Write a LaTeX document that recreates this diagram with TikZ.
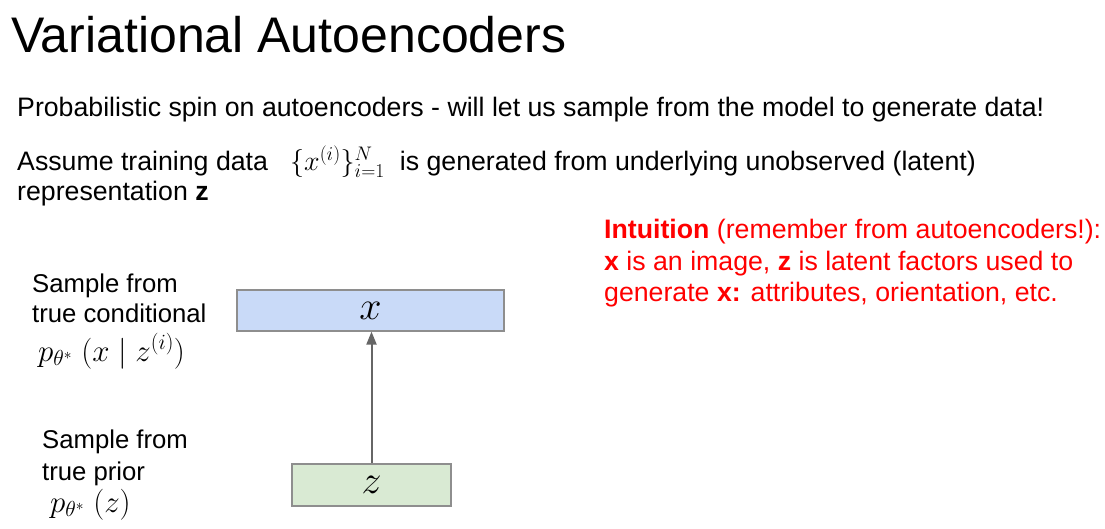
\RequirePackage{fix-cm}
\documentclass[tikz,border=0pt]{standalone}
\usepackage[no-math]{fontspec}
\setmainfont{Liberation Sans}
\usetikzlibrary{arrows.meta}
\definecolor{boxblue}{HTML}{C9DAF8}
\definecolor{boxgreen}{HTML}{D9EAD3}
\definecolor{boxline}{HTML}{8E8E8E}
\definecolor{arrowgray}{HTML}{666666}
\definecolor{intred}{HTML}{FF0000}
\begin{document}
\begin{tikzpicture}[x=1pt,y=-1pt,
  txt/.style={anchor=base west, inner sep=0pt, font=\fontsize{26.7}{31}\selectfont},
  lbl/.style={anchor=base west, inner sep=0pt, font=\fontsize{25.7}{31}\selectfont},
  redtxt/.style={txt, text=intred},
  titletxt/.style={anchor=base west, inner sep=0pt, font=\fontsize{50}{60}\selectfont},
  mathlbl/.style={anchor=base west, inner sep=0pt, font=\fontsize{31}{36}\selectfont},
  varbox/.style={draw=boxline, line width=1.2pt, inner sep=0pt, font=\fontsize{40}{42}\selectfont},
  conn/.style={draw=arrowgray, line width=2pt, -{Triangle[width=10pt,length=13pt]}}
]
\useasboundingbox (0,0) rectangle (1105,529);

\node[titletxt] (title) at (11,53) {Variational Autoencoders};

\node[txt] (l1) at (17,117) {Probabilistic spin on autoencoders - will let us sample from the model to generate data!};
\node[txt] (l2a) at (17,171) {Assume training data};
\node[anchor=base west, inner sep=0pt, font=\fontsize{28}{32}\selectfont] (l2m) at (290,171) {$\{x^{(i)}\}_{i=1}^{N}$};
\node[txt, anchor=base east] (l2b) at (976,171) {is generated from underlying unobserved (latent)};
\node[txt] (l3) at (17,201) {representation \textbf{z}};

\node[redtxt] (r1) at (604,239) {\textbf{Intuition} (remember from autoencoders!):};
\node[redtxt] (r2) at (604,270) {\textbf{x} is an image, \textbf{z} is latent factors used to};
\node[redtxt] (r3) at (604,301) {generate \textbf{x:} attributes, orientation, etc.};

\node[varbox, fill=boxblue, minimum width=267pt, minimum height=41pt] (xbox) at (370.5,310.5) {$x$};
\node[varbox, fill=boxgreen, minimum width=159pt, minimum height=42pt] (zbox) at (371.5,485) {$z$};
\draw[conn] (zbox.north) -- (zbox.north |- xbox.south);

\node[lbl] (s1) at (32,292) {Sample from};
\node[lbl] (s2) at (32,322) {true conditional};
\node[mathlbl] (s3) at (38,361) {$p_{\theta^*}\;(x \mid z^{(i)})$};

\node[lbl] (p1) at (42,448) {Sample from};
\node[lbl] (p2) at (42,480) {true prior};
\node[mathlbl] (p3) at (50,512) {$p_{\theta^*}\;(z)$};
\end{tikzpicture}
\end{document}
